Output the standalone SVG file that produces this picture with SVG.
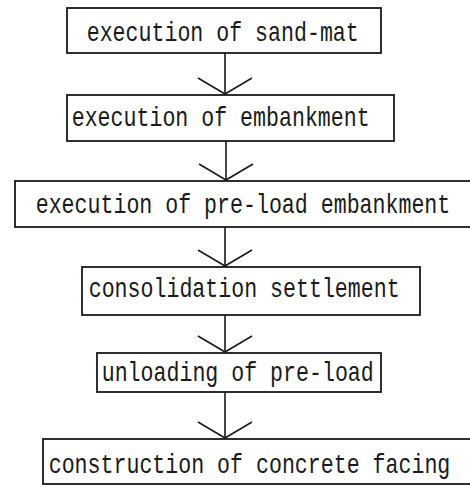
<svg xmlns="http://www.w3.org/2000/svg" width="470" height="485" viewBox="0 0 470 485">
<style>
.box{fill:#fff;stroke:#1a1a1a;stroke-width:1.8}
.lbl{font-family:"Liberation Mono","DejaVu Sans Mono",monospace;font-size:21.6px;fill:#1a1a1a}
.edge{fill:none;stroke:#1a1a1a;stroke-width:1.6}
</style>
<defs>
<marker id="v" viewBox="-18 -29 20 58" markerWidth="20" markerHeight="58" refX="0" refY="0" markerUnits="userSpaceOnUse" orient="auto" overflow="visible">
<path d="M-16,-27 L0,0 L-16,27" fill="none" stroke="#1a1a1a" stroke-width="1.6"/>
</marker>
</defs>
<rect width="470" height="485" fill="#fff"/>
<g id="connectors">
<line class="edge" x1="225" y1="53" x2="225" y2="94" marker-end="url(#v)"/>
<line class="edge" x1="226" y1="141" x2="226" y2="180" marker-end="url(#v)"/>
<line class="edge" x1="225" y1="227" x2="225" y2="266" marker-end="url(#v)"/>
<line class="edge" x1="225" y1="315" x2="225" y2="352" marker-end="url(#v)"/>
<line class="edge" x1="225" y1="392" x2="225" y2="438" marker-end="url(#v)"/>
</g>
<g id="n1">
<rect class="box" x="67" y="8" width="314" height="45"/>
<text class="lbl" transform="translate(86.7,41) scale(1,1.25)">execution of sand-mat</text>
</g>
<g id="n2">
<rect class="box" x="67" y="95" width="327" height="46"/>
<text class="lbl" transform="translate(71.7,126) scale(1,1.25)">execution of embankment</text>
</g>
<g id="n3">
<rect class="box" x="15" y="181" width="462" height="46"/>
<text class="lbl" transform="translate(35.7,213) scale(1,1.25)">execution of pre-load embankment</text>
</g>
<g id="n4">
<rect class="box" x="82" y="267" width="338" height="48"/>
<text class="lbl" transform="translate(88.7,297) scale(1,1.25)">consolidation settlement</text>
</g>
<g id="n5">
<rect class="box" x="97" y="353" width="284" height="39"/>
<text class="lbl" transform="translate(101.7,381) scale(1,1.25)">unloading of pre-load</text>
</g>
<g id="n6">
<rect class="box" x="43" y="439" width="432" height="45"/>
<text class="lbl" transform="translate(48.7,473) scale(1,1.25)">construction of concrete facing</text>
</g>
</svg>
